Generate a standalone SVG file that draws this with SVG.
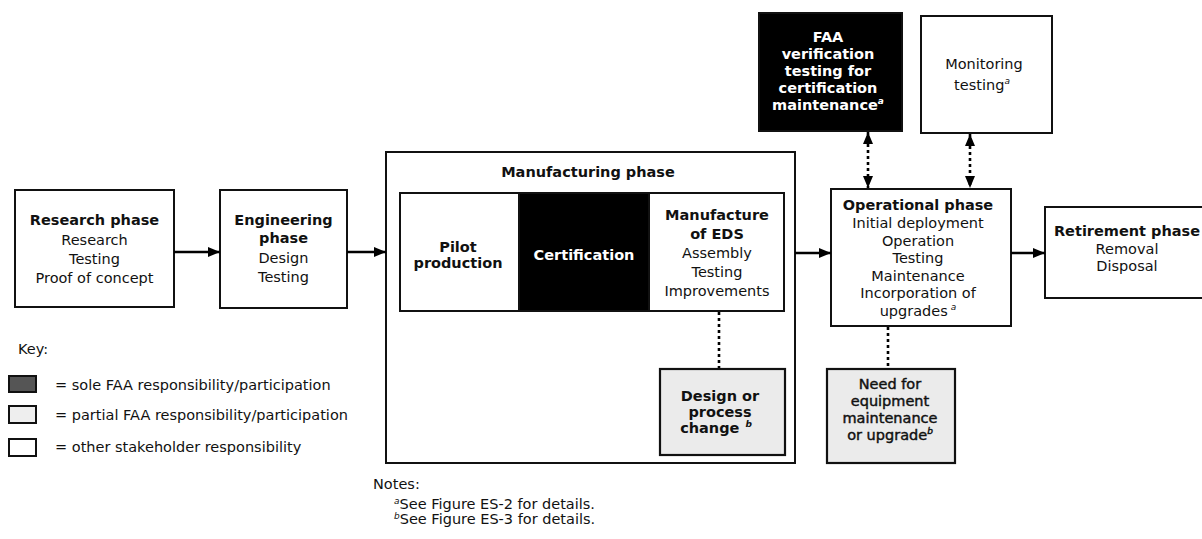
<svg xmlns="http://www.w3.org/2000/svg" width="1202" height="539" viewBox="0 0 1202 539">
<style>
text{font-family:"DejaVu Sans","Liberation Sans",sans-serif;font-size:14.5px;fill:#111;text-anchor:middle}
.b{font-weight:bold}
.m{stroke:#111;stroke-width:0.45}
.w{fill:#fff}
.l{text-anchor:start}
.sup{font-size:9px;font-style:italic}
.box{fill:#fff;stroke:#111;stroke-width:2}
.dark{fill:#000;stroke:#111;stroke-width:2}
.part{fill:#ebebeb;stroke:#111;stroke-width:2.2}
.arrow{stroke:#000;stroke-width:2.6;fill:none}
.dot{stroke:#000;stroke-width:2.6;fill:none;stroke-dasharray:3 3}
</style>
<defs>
<marker id="ah" markerUnits="userSpaceOnUse" markerWidth="12" markerHeight="10" refX="12" refY="5" orient="auto-start-reverse">
<path d="M0,0 L12,5 L0,10 z" fill="#000" stroke="none"/>
</marker>
</defs>
<rect width="1202" height="539" fill="#fff"/>

<g id="research">
<rect class="box" x="15" y="190" width="159" height="117"/>
<text class="b" x="94.5" y="225">Research phase</text>
<text x="94.5" y="245">Research</text>
<text x="94.5" y="264">Testing</text>
<text x="94.5" y="283">Proof of concept</text>
</g>

<g id="engineering">
<rect class="box" x="220" y="190" width="127" height="118"/>
<text class="b" x="283.5" y="225">Engineering</text>
<text class="b" x="283.5" y="243">phase</text>
<text x="283.5" y="263">Design</text>
<text x="283.5" y="282">Testing</text>
</g>

<g id="manufacturing">
<rect class="box" x="386" y="152" width="409" height="311"/>
<text class="b" x="588" y="177">Manufacturing phase</text>
</g>

<g id="pilot">
<rect class="box" x="400" y="193" width="119" height="118"/>
<text class="b" x="458" y="252">Pilot</text>
<text class="b" x="458" y="268">production</text>
</g>

<g id="certification">
<rect class="dark" x="519" y="193" width="130" height="118"/>
<text class="b w" x="584" y="260">Certification</text>
</g>

<g id="manufacture-eds">
<rect class="box" x="649" y="193" width="135" height="118"/>
<text class="b" x="717" y="220">Manufacture</text>
<text class="b" x="717" y="239">of EDS</text>
<text x="717" y="258">Assembly</text>
<text x="717" y="277">Testing</text>
<text x="717" y="296">Improvements</text>
</g>

<g id="design-change">
<rect class="part" x="660" y="369" width="125" height="86"/>
<text class="b" x="720" y="401">Design or</text>
<text class="b" x="720" y="417">process</text>
<text class="b" x="716" y="433">change<tspan class="sup" dx="6" dy="-6">b</tspan></text>
</g>

<g id="faa-verification">
<rect class="dark" x="759" y="13" width="143" height="118"/>
<text class="b w" x="828" y="42">FAA</text>
<text class="b w" x="828" y="59">verification</text>
<text class="b w" x="828" y="76">testing for</text>
<text class="b w" x="828" y="93">certification</text>
<text class="b w" x="828" y="110">maintenance<tspan class="sup" dy="-6">a</tspan></text>
</g>

<g id="monitoring">
<rect class="box" x="921" y="16" width="131" height="117"/>
<text x="984" y="69">Monitoring</text>
<text x="982" y="90">testing<tspan class="sup" dy="-6">a</tspan></text>
</g>

<g id="operational">
<rect class="box" x="831" y="189" width="180" height="137"/>
<text class="b" x="918" y="210">Operational phase</text>
<text x="918" y="228">Initial deployment</text>
<text x="918" y="246">Operation</text>
<text x="918" y="263">Testing</text>
<text x="918" y="281">Maintenance</text>
<text x="918" y="298">Incorporation of</text>
<text x="918" y="316">upgrades<tspan class="sup" dx="3" dy="-6">a</tspan></text>
</g>

<g id="need-upgrade">
<rect class="part" x="827" y="369" width="128" height="94"/>
<text class="m" x="890" y="389">Need for</text>
<text class="m" x="890" y="406">equipment</text>
<text class="m" x="890" y="423">maintenance</text>
<text class="m" x="890" y="440">or upgrade<tspan class="sup" dy="-6">b</tspan></text>
</g>

<g id="retirement">
<rect class="box" x="1045" y="207" width="160" height="91"/>
<text class="b" x="1127" y="236">Retirement phase</text>
<text x="1127" y="254">Removal</text>
<text x="1127" y="271">Disposal</text>
</g>

<g id="connectors">
<line class="arrow" x1="174" y1="252" x2="220" y2="252" marker-end="url(#ah)"/>
<line class="arrow" x1="347" y1="252" x2="386" y2="252" marker-end="url(#ah)"/>
<line class="arrow" x1="795" y1="253" x2="831" y2="253" marker-end="url(#ah)"/>
<line class="arrow" x1="1011" y1="253" x2="1045" y2="253" marker-end="url(#ah)"/>
<line class="dot" x1="868" y1="132" x2="868" y2="188" marker-start="url(#ah)" marker-end="url(#ah)"/>
<line class="dot" x1="970" y1="134" x2="970" y2="188" marker-start="url(#ah)" marker-end="url(#ah)"/>
<line class="dot" x1="719" y1="312" x2="719" y2="368"/>
<line class="dot" x1="888" y1="327" x2="888" y2="368"/>
</g>

<g id="key">
<text class="l" x="18" y="354">Key:</text>
<rect x="9" y="376" width="27" height="16" fill="#555" stroke="#111" stroke-width="2"/>
<text class="l" x="55" y="390">= sole FAA responsibility/participation</text>
<rect x="9" y="406" width="27" height="17" fill="#eee" stroke="#111" stroke-width="2"/>
<text class="l" x="55" y="420">= partial FAA responsibility/participation</text>
<rect x="9" y="439" width="27" height="17" fill="#fff" stroke="#111" stroke-width="2"/>
<text class="l" x="55" y="452">= other stakeholder responsibility</text>
</g>

<g id="notes">
<text class="l" x="373" y="489">Notes:</text>
<text class="l" x="394" y="509"><tspan class="sup" dy="-5">a</tspan><tspan dy="5">See Figure ES-2 for details.</tspan></text>
<text class="l" x="394" y="524"><tspan class="sup" dy="-5">b</tspan><tspan dy="5">See Figure ES-3 for details.</tspan></text>
</g>
</svg>
